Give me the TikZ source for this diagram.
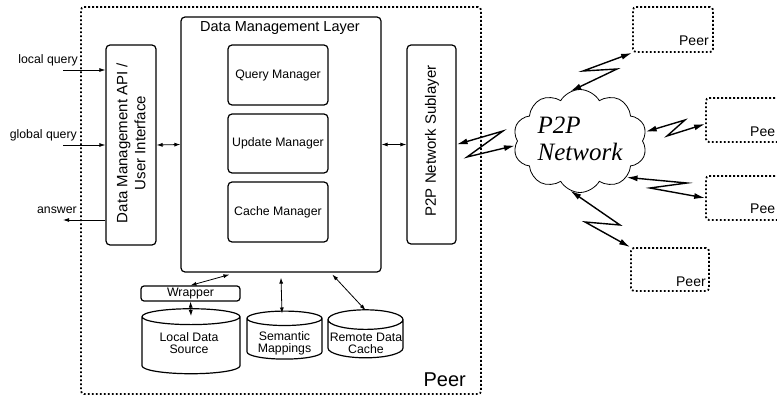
\documentclass[tikz,border=0pt]{standalone}
\usepackage{fontspec}
\setmainfont{Liberation Sans}
\newfontfamily\cloudfont{Liberation Serif}
\usetikzlibrary{arrows.meta, shapes.geometric, shapes.symbols}
\tikzset{box/.style={draw,line width=1.2pt,rounded corners=4pt,inner sep=0pt}}
\tikzset{peerbox/.style={draw,line width=1.8pt,dash pattern=on 1.8pt off 2.2pt,rounded corners=3pt,inner sep=0pt}}
\tikzset{drum/.style={draw,line width=1.2pt,shape=cylinder,shape border rotate=90,inner sep=0pt,aspect=0.27}}

\begin{document}
\begin{tikzpicture}[x=1pt,y=-1pt,font=\fontsize{12.3}{12}\selectfont]
	\tikzstyle{arr}=[line width=0.8pt,-{Latex[length=6pt,width=4pt]}]
	\tikzstyle{link}=[line width=0.8pt,{Latex[length=6pt,width=4pt]}-{Latex[length=6pt,width=4pt]}]
	\tikzstyle{bolt}=[line width=1.4pt,{Latex[length=11pt,width=6pt]}-{Latex[length=11pt,width=6pt]}]
	\useasboundingbox (0,0) rectangle (777,396);

	% the local peer
	\node[peerbox,minimum width=400pt,minimum height=387pt](peer) at (281,200.5){};
	\node[anchor=base east,inner sep=0pt,font=\fontsize{20}{22}\selectfont](peertxt) at (466,386){Peer};

	\node[box,minimum width=50pt,minimum height=200pt](api) at (131,145){};
	\node[rotate=90,align=center,font=\fontsize{15}{18}\selectfont](apitxt) at (131,143){Data Management API /\\User Interface};

	\node[box,minimum width=200pt,minimum height=255pt](dml) at (281,144.5){};
	\node[font=\fontsize{14.5}{16}\selectfont](dmltxt) at (280,28){Data Management Layer};
	\node[box,minimum width=100pt,minimum height=60pt](qm) at (278,75){Query Manager};
	\node[box,minimum width=100pt,minimum height=59pt](um) at (278,143.5){Update Manager};
	\node[box,minimum width=100pt,minimum height=60pt](cm) at (278,212){Cache Manager};

	\node[box,minimum width=49pt,minimum height=199pt](sub) at (431.5,144.5){};
	\node[rotate=90,font=\fontsize{15}{18}\selectfont](subtxt) at (432,141){P2P Network Sublayer};

	% sources
	\node[box,rounded corners=3pt,minimum width=99pt,minimum height=15pt](wrap) at (190.5,293.5){Wrapper};
	\node[drum,minimum width=98pt,minimum height=65pt](lds) at (191,345.5){\phantom{Local Data}};
	\node[drum,minimum width=75pt,minimum height=48pt](sm) at (284.5,339){\phantom{Mappings}};
	\node[drum,minimum width=75pt,minimum height=48pt](rdc) at (365.5,339){\phantom{Remote Data}};
	\node[align=center](ldstxt) at (189,343.5){Local Data\\Source};
	\node[align=center](smtxt) at (284.5,343.5){Semantic\\Mappings};
	\node[align=center](rdctxt) at (366,343.5){Remote Data\\Cache};

	% queries
	\coordinate (lq) at (63,70);
	\coordinate (gq) at (63,145);
	\coordinate (ans) at (63,220);
	\node[anchor=base east,inner sep=0pt](lqtxt) at (78,64){local query};
	\node[anchor=base east,inner sep=0pt](gqtxt) at (77,138){global query};
	\node[anchor=base east,inner sep=0pt](anstxt) at (77,213){answer};
	\draw[arr] (lq) -- (lq -| api.west);
	\draw[arr] (gq) -- (gq -| api.west);
	\draw[arr] (ans -| api.west) -- (ans);

	\draw[link] (api.east) -- (dml.west);
	\draw[link] (dml.east) -- (sub.west);
	\draw[link] ([xshift=49pt,yshift=-2pt]dml.south west) -- (wrap.north);
	\draw[link] (wrap.south) -- ([yshift=-8pt]lds.north);
	\draw[link] ([yshift=-5pt]dml.south) -- ([xshift=-2.5pt,yshift=-3pt]sm.north);
	\draw[link] ([xshift=152pt,yshift=-2pt]dml.south west) -- ([yshift=-1pt]rdc.north);

	% the network
	\node[cloud,draw,line width=0.8pt,cloud puffs=10,cloud puff arc=120,aspect=1.3,minimum width=134pt,minimum height=103pt,inner sep=0pt](net) at (580,141){};
	\node[align=left,font=\cloudfont\itshape\fontsize{25}{27}\selectfont](nettxt) at (580,139){P2P\\Network};

	\node[peerbox,minimum width=80pt,minimum height=45pt](p1) at (673,29.5){};
	\node[peerbox,minimum width=80pt,minimum height=44pt](p2) at (746,120){};
	\node[peerbox,minimum width=80pt,minimum height=44pt](p3) at (746,198){};
	\node[peerbox,minimum width=78pt,minimum height=43pt](p4) at (670,269.5){};
	\node[anchor=base east,inner sep=0pt,font=\fontsize{14}{16}\selectfont](p1txt) at ([xshift=-5pt,yshift=7pt]p1.south east){Peer};
	\node[anchor=base west,inner sep=0pt,font=\fontsize{14}{16}\selectfont](p2txt) at (750,136){Pee};
	\node[anchor=base west,inner sep=0pt,font=\fontsize{14}{16}\selectfont](p3txt) at (750,213){Pee};
	\node[anchor=base east,inner sep=0pt,font=\fontsize{14}{16}\selectfont](p4txt) at ([xshift=-4pt,yshift=5pt]p4.south east){Peer};

	\draw[bolt] (sub.east) -- (503,131) -- (467,157) -- (net.184);
	\draw[bolt] (net.101) -- (617,69) -- (583,71) -- (p1.south west);
	\draw[bolt] (net.8) -- (685,120) -- (667,136) -- ([yshift=-4pt]p2.west);
	\draw[bolt] (net.322) -- (687,183) -- (650,188) -- (p3.west);
	\draw[bolt] (net.259) -- (620,225) -- (585,222) -- (p4.north west);
\end{tikzpicture}
\end{document}
